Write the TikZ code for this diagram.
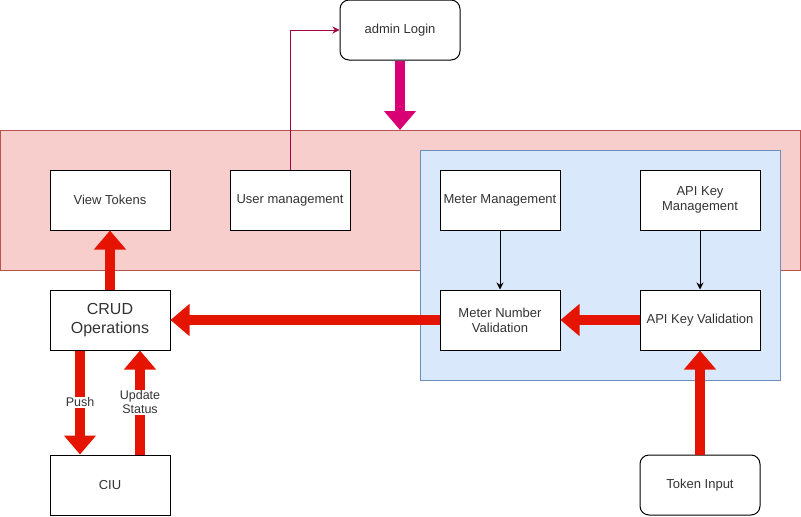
\documentclass[tikz,border=0pt]{standalone}
\usepackage{fontspec}
\setmainfont{Liberation Sans}
\usetikzlibrary{arrows.meta}
\definecolor{redfill}{HTML}{F8CECC}
\definecolor{redline}{HTML}{B85450}
\definecolor{bluefill}{HTML}{DAE8FC}
\definecolor{blueline}{HTML}{6C8EBF}
\definecolor{fatred}{HTML}{E51400}
\definecolor{magfill}{HTML}{D80073}
\definecolor{magline}{HTML}{A50040}
\definecolor{txt}{HTML}{333333}
\tikzset{
  box/.style={draw=black, line width=1pt, fill=white, minimum width=120pt, minimum height=60pt,
    inner sep=0pt, align=center, text=txt, font=\fontsize{13}{15}\selectfont},
  rbox/.style={box, rounded corners=9pt},
  fat/.style={draw=#1, line width=10pt, -{Triangle[width=31pt,length=19pt]}},
  thinarrow/.style={draw=#1, line width=1pt, -{Stealth[length=7pt,width=7pt]}},
  lbl/.style={fill=white, text=txt, inner sep=1pt, align=center, font=\fontsize{12.5}{14}\selectfont}
}
\begin{document}
\begin{tikzpicture}[x=1pt,y=-1pt]
\useasboundingbox (0,0) rectangle (801,517);
% regions
\draw[fill=redfill, draw=redline, line width=1pt] (0.5,130) rectangle (800.5,270);
\draw[fill=bluefill, draw=blueline, line width=1pt] (420,150) rectangle (780,380);
% nodes
\node[rbox] (login) at (400,30) {admin Login};
\node[box] (vt) at (110,200) {View Tokens};
\node[box] (um) at (290,200) {User management};
\node[box] (mm) at (500,200) {Meter Management};
\node[box] (akm) at (700,200) {API Key\\Management};
\node[box, font=\fontsize{16}{19}\selectfont] (crud) at (110,320) {CRUD\\Operations};
\node[box] (mnv) at (500,320) {Meter Number\\Validation};
\node[box] (akv) at (700,320) {API Key Validation};
\node[box] (ciu) at (110,485) {CIU};
\node[rbox] (ti) at (700,485) {Token Input};
\coordinate (redtop) at (400,130);
% connectors
\draw[fat=magfill] (login.south) -- (redtop);
\draw[thinarrow=magline] (um.north) |- (login.west);
\draw[thinarrow=black] (mm.south) -- (mnv.north);
\draw[thinarrow=black] (akm.south) -- (akv.north);
\draw[fat=fatred] (crud.north) -- (vt.south);
\draw[fat=fatred] (mnv.west) -- (crud.east);
\draw[fat=fatred] (akv.west) -- (mnv.east);
\draw[fat=fatred] (ti.north) -- (akv.south);
\draw[fat=fatred] ([xshift=-30pt]crud.south) -- node[lbl] {Push} ([xshift=-30pt]ciu.north);
\draw[fat=fatred] ([xshift=30pt]ciu.north) -- node[lbl] {Update\\Status} ([xshift=30pt]crud.south);
\end{tikzpicture}
\end{document}
